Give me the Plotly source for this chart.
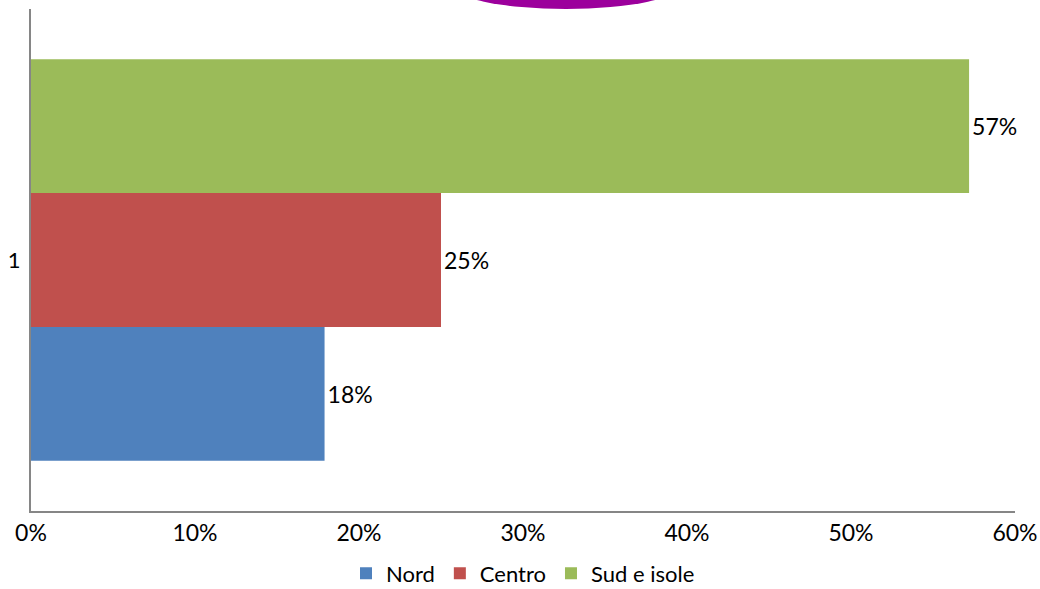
import plotly.graph_objects as go

categories = ["1"]
series_names = ["Nord", "Centro", "Sud e isole"]
nord = [0.179]
centro = [0.25]
sud = [0.572]
colors = ["#4F81BD", "#C0504D", "#9BBB59"]
x_ticks = [0, 0.1, 0.2, 0.3, 0.4, 0.5, 0.6]
x_tick_labels = ["0%", "10%", "20%", "30%", "40%", "50%", "60%"]

FONT = "Lato, 'Open Sans', sans-serif"

fig = go.Figure()
for name, vals, col in zip(series_names, [nord, centro, sud], colors):
    fig.add_trace(go.Bar(
        y=categories, x=vals, name=name, orientation="h",
        marker=dict(color=col, line=dict(width=0)),
        text=[f"{round(v*100):.0f}%" for v in vals],
        textposition="outside", cliponaxis=False,
        textfont=dict(size=23, color="black", family=FONT),
    ))

fig.update_layout(
    width=1040, height=589,
    barmode="group", bargap=0.2, bargroupgap=0,
    plot_bgcolor="white", paper_bgcolor="white",
    margin=dict(l=31, r=25, t=9, b=78, autoexpand=False),
    font=dict(family=FONT, size=22, color="black"),
    showlegend=True,
    legend=dict(orientation="h", x=0.5, xanchor="center", y=-0.166, yanchor="bottom",
                font=dict(size=22, family=FONT), traceorder="normal",
                itemwidth=30),
    xaxis=dict(range=[0, 0.6], tickvals=x_ticks, ticktext=x_tick_labels,
               showgrid=False, zeroline=False, showline=True,
               linecolor="#868686", linewidth=2, ticks="",
               tickfont=dict(size=23), automargin=False, fixedrange=True),
    yaxis=dict(showgrid=False, zeroline=False, showline=True,
               linecolor="#868686", linewidth=2, ticks="",
               tickfont=dict(size=22), automargin=False, ticklabelstandoff=4),
)

fig.add_shape(type="circle", xref="paper", yref="paper",
              x0=(450-31)/984, x1=(682-31)/984,
              y0=(511-9)/502, y1=(511+41)/502,
              fillcolor="#9C009C", line=dict(width=0), layer="above")

fig.write_html("out.html", config={"displayModeBar": False},
               post_script="document.body.style.margin='0px';document.body.style.overflow='hidden';")
